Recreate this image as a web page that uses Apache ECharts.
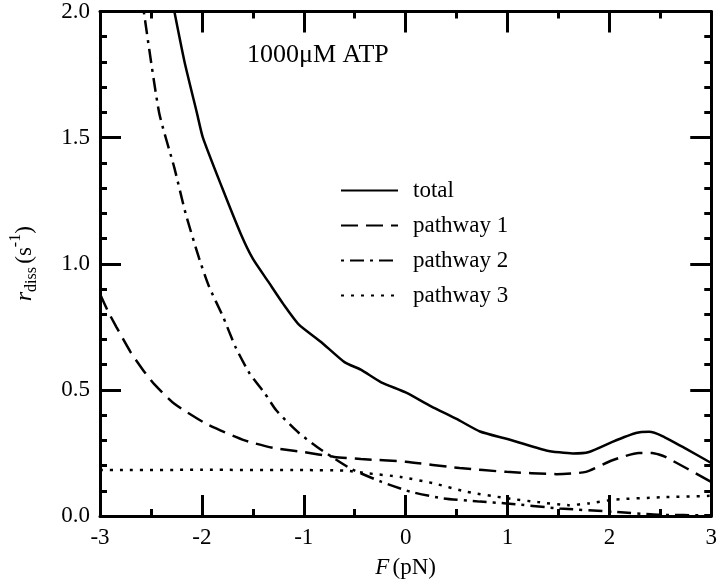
<!DOCTYPE html>
<html>
<head>
<meta charset="utf-8">
<script src="https://cdn.jsdelivr.net/npm/echarts@6/dist/echarts.min.js"></script>
<style>html,body{margin:0;padding:0;background:#fff;}#c{width:720px;height:586px;}</style>
</head>
<body>
<div id="c"></div>
<script>
// Data: [F (pN), r_diss (s^-1)]
const seriesNames = ['total', 'pathway 1', 'pathway 2', 'pathway 3'];
const totalData = [[-2.27,2.0],[-2.17,1.80],[-2.05,1.60],[-1.99,1.50],[-1.80,1.30],[-1.62,1.12],[-1.50,1.02],[-1.35,0.93],[-1.20,0.84],[-1.05,0.76],[-0.83,0.69],[-0.60,0.61],[-0.44,0.58],[-0.24,0.53],[0.0,0.49],[0.25,0.435],[0.50,0.385],[0.73,0.335],[1.0,0.305],[1.38,0.26],[1.64,0.248],[1.80,0.254],[2.03,0.294],[2.26,0.329],[2.39,0.334],[2.52,0.317],[2.75,0.267],[3.0,0.21]];
const pathway1Data = [[-3,0.88],[-2.92,0.81],[-2.84,0.75],[-2.70,0.65],[-2.58,0.58],[-2.47,0.524],[-2.27,0.445],[-1.95,0.364],[-1.58,0.30],[-1.30,0.27],[-1.01,0.254],[-0.70,0.234],[-0.44,0.226],[0.0,0.215],[0.53,0.19],[0.99,0.175],[1.48,0.166],[1.77,0.175],[2.03,0.221],[2.29,0.25],[2.42,0.25],[2.55,0.234],[3.0,0.135]];
const pathway2Data = [[-2.57,2.0],[-2.42,1.60],[-2.27,1.38],[-2.16,1.20],[-2.03,1.025],[-1.93,0.91],[-1.79,0.788],[-1.67,0.67],[-1.53,0.564],[-1.38,0.485],[-1.27,0.419],[-1.05,0.33],[-0.83,0.263],[-0.54,0.188],[-0.24,0.136],[0.05,0.096],[0.37,0.07],[0.73,0.057],[0.99,0.05],[1.51,0.03],[2.03,0.017],[2.48,0.005],[3.0,0.003]];
const pathway3Data = [[-3,0.182],[-2,0.183],[-1,0.182],[-0.6,0.18],[-0.37,0.169],[-0.05,0.155],[0.28,0.129],[0.6,0.096],[1.0,0.07],[1.3,0.055],[1.6,0.043],[1.8,0.05],[2.05,0.065],[2.5,0.074],[3.0,0.08]];
const xTicks = {min: -3, max: 3, interval: 1};
const yTicks = {min: 0, max: 2, interval: 0.5};

const FONT = "'Liberation Serif', 'DejaVu Serif', serif";
const chart = echarts.init(document.getElementById('c'), null, {renderer: 'canvas'});

function axisCommon(showLabel, isX) {
  return {
    type: 'value',
    axisLine: {show: true, onZero: false, lineStyle: {color: '#000', width: 3}},
    axisTick: {show: true, inside: true, length: 21, lineStyle: {color: '#000', width: 3}},
    minorTick: {show: true, splitNumber: isX ? 2 : 5, length: 7, lineStyle: {color: '#000', width: 3}},
    splitLine: {show: false},
    minorSplitLine: {show: false},
    axisLabel: {show: showLabel, color: '#000', fontFamily: FONT, fontSize: 23, margin: 10,
      formatter: isX ? (v => String(v)) : (v => v.toFixed(1))}
  };
}

const lineBase = {type: 'line', symbol: 'none', smooth: 0.2, animation: false, clip: true};

chart.setOption({
  animation: false,
  backgroundColor: '#fff',
  grid: {left: 97, right: 7, top: 10, bottom: 70, containLabel: false},
  xAxis: [
    Object.assign(axisCommon(true, true), {position: 'bottom', min: xTicks.min, max: xTicks.max, interval: xTicks.interval,
      name: '{i|F} {n|(pN)}', nameLocation: 'middle', nameGap: 40,
      nameTextStyle: {rich: {i: {fontFamily: FONT, fontStyle: 'italic', fontSize: 23, color: '#000'}, n: {fontFamily: FONT, fontSize: 23, color: '#000'}}}}),
    Object.assign(axisCommon(false, true), {position: 'top', min: xTicks.min, max: xTicks.max, interval: xTicks.interval})
  ],
  yAxis: [
    Object.assign(axisCommon(true, false), {position: 'left', min: yTicks.min, max: yTicks.max, interval: yTicks.interval,
      name: '{i|r}{s|diss} {n|(s}{p|-1}{n|)}', nameLocation: 'middle', nameGap: 58,
      nameTextStyle: {rich: {
        i: {fontFamily: FONT, fontStyle: 'italic', fontSize: 24, color: '#000'},
        s: {fontFamily: FONT, fontSize: 16, color: '#000', padding: [14, 0, 0, 0]},
        n: {fontFamily: FONT, fontSize: 23, color: '#000'},
        p: {fontFamily: FONT, fontSize: 16, color: '#000', padding: [0, 0, 18, 0]}
      }}}),
    Object.assign(axisCommon(false, false), {position: 'right', min: yTicks.min, max: yTicks.max, interval: yTicks.interval})
  ],
  legend: {
    orient: 'vertical', left: 335, top: 174,
    itemWidth: 57, itemHeight: 14, itemGap: 12,
    data: seriesNames,
    itemStyle: {color: 'rgba(0,0,0,0)', borderWidth: 0},
    textStyle: {fontFamily: FONT, fontSize: 23, color: '#000', lineHeight: 22, padding: [0, 0, 0, 10]},
    selectedMode: false
  },
  graphic: [{
    type: 'text', left: 247, top: 42,
    style: {text: '1000\u03bcM ATP', font: "26px 'Liberation Serif'", fill: '#000'}
  }],
  series: [
    Object.assign({}, lineBase, {name: seriesNames[0], data: totalData, lineStyle: {color: '#000', width: 2.5, type: 'solid'}, itemStyle: {color: '#000'}}),
    Object.assign({}, lineBase, {name: seriesNames[1], data: pathway1Data, lineStyle: {color: '#000', width: 2.5, type: [17, 8]}, itemStyle: {color: '#000'}}),
    Object.assign({}, lineBase, {name: seriesNames[2], data: pathway2Data, lineStyle: {color: '#000', width: 2.5, type: [3, 6, 14, 6]}, itemStyle: {color: '#000'}}),
    Object.assign({}, lineBase, {name: seriesNames[3], data: pathway3Data, lineStyle: {color: '#000', width: 2.5, type: [3, 7]}, itemStyle: {color: '#000'}})
  ]
});
</script>
</body>
</html>
